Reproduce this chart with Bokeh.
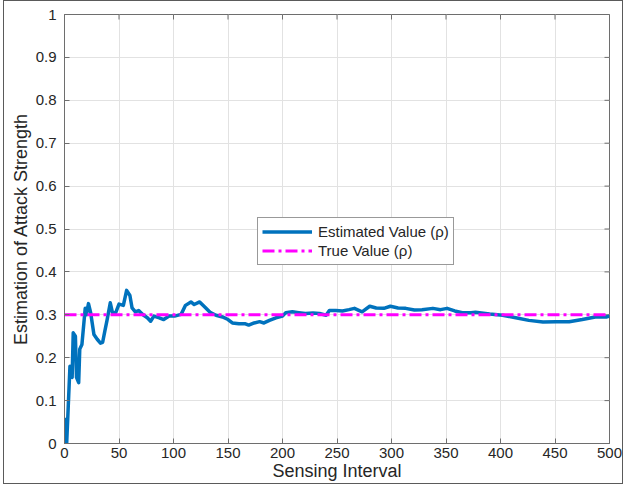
import math
from bokeh.plotting import figure
from bokeh.models import Range1d, FixedTicker, Legend, LegendItem
from bokeh.embed import file_html
from bokeh.resources import INLINE

# ---- data ----
interval = [1, 2, 5, 7, 8, 10, 11, 13, 14, 16, 19, 20, 22, 24, 27, 30, 33, 35, 37, 39,
            42, 44, 47, 50, 54, 57, 60, 62, 65, 68, 72, 76, 79, 82, 87, 91, 96, 101, 107, 111,
            116, 119, 124, 128, 134, 139, 145, 150, 154, 160, 166, 169, 174, 179, 183, 188, 194, 200, 203, 209,
            215, 221, 228, 234, 240, 243, 249, 255, 261, 266, 273, 280, 286, 293, 299, 306, 313, 321, 328, 338,
            345, 351, 358, 365, 373, 377, 390, 402, 414, 426, 439, 451, 463, 475, 487, 497, 500]
estimated = [0.06, 0.00, 0.18, 0.154, 0.258, 0.25, 0.154, 0.142, 0.22, 0.231, 0.315, 0.30, 0.326, 0.305, 0.254, 0.243, 0.234, 0.236, 0.262, 0.287,
             0.328, 0.305, 0.305, 0.325, 0.322, 0.357, 0.345, 0.316, 0.307, 0.31, 0.30, 0.293, 0.285, 0.297, 0.293, 0.289, 0.297, 0.297, 0.301, 0.322,
             0.330, 0.324, 0.330, 0.320, 0.305, 0.299, 0.295, 0.289, 0.281, 0.279, 0.279, 0.276, 0.281, 0.284, 0.281, 0.287, 0.293, 0.297, 0.305, 0.307,
             0.305, 0.303, 0.304, 0.303, 0.299, 0.310, 0.310, 0.309, 0.312, 0.315, 0.307, 0.320, 0.316, 0.315, 0.320, 0.316, 0.315, 0.311, 0.312, 0.315,
             0.312, 0.315, 0.309, 0.305, 0.305, 0.306, 0.302, 0.299, 0.293, 0.287, 0.283, 0.284, 0.284, 0.289, 0.295, 0.295, 0.297]
true_value = 0.3
x_limits = [0, 500]
y_limits = [0, 1]
x_ticks = [0, 50, 100, 150, 200, 250, 300, 350, 400, 450, 500]
y_ticks = [0, 0.1, 0.2, 0.3, 0.4, 0.5, 0.6, 0.7, 0.8, 0.9, 1]
y_tick_labels = ["0", "0.1", "0.2", "0.3", "0.4", "0.5", "0.6", "0.7", "0.8", "0.9", "1"]
x_label = "Sensing Interval"
y_label = "Estimation of Attack Strength"
legend_labels = ["Estimated Value (ρ)", "True Value (ρ)"]

FONT = "Liberation Sans"
AXIS_COLOR = "#6e6e6e"
TEXT_COLOR = "#262626"

p = figure(width=620, height=484, output_backend="svg", toolbar_location=None,
           x_range=Range1d(*x_limits), y_range=Range1d(*y_limits),
           min_border_left=60, min_border_right=15, min_border_top=13, min_border_bottom=42)
p.styles = {"border": "1px solid #5a5a5a", "margin-left": "3px"}
p.background_fill_color = "white"
p.border_fill_color = "white"
p.outline_line_color = AXIS_COLOR
p.outline_line_width = 1

for ax in (p.xaxis[0], p.yaxis[0]):
    ax.axis_line_color = AXIS_COLOR
    ax.major_tick_line_color = AXIS_COLOR
    ax.major_tick_in = 5
    ax.major_tick_out = 0
    ax.minor_tick_line_color = None
    ax.major_label_text_font = FONT
    ax.major_label_text_font_size = "15px"
    ax.major_label_text_color = TEXT_COLOR
    ax.major_label_standoff = 8
    ax.axis_label_text_font = FONT
    ax.axis_label_text_font_size = "18px"
    ax.axis_label_text_font_style = "normal"
    ax.axis_label_text_color = TEXT_COLOR

p.xaxis[0].ticker = FixedTicker(ticks=x_ticks)
p.yaxis[0].ticker = FixedTicker(ticks=y_ticks)
p.yaxis[0].major_label_overrides = dict(zip(y_ticks, y_tick_labels))
p.xaxis[0].axis_label = x_label
p.yaxis[0].axis_label = y_label
p.xaxis[0].major_label_standoff = 4
p.xaxis[0].axis_label_standoff = 0
p.yaxis[0].axis_label_standoff = 2

p.xgrid.ticker = FixedTicker(ticks=x_ticks)
p.ygrid.ticker = FixedTicker(ticks=y_ticks)
p.grid.grid_line_color = "#e2e2e2"
p.grid.grid_line_width = 1

# inward tick marks on the top and right edges of the box (outer half is clipped by the frame)
p.scatter(x_ticks, [y_limits[1]] * len(x_ticks), marker="dash", size=10, angle=math.pi / 2,
          line_color=AXIS_COLOR, line_width=1)
p.scatter([x_limits[1]] * len(y_ticks), y_ticks, marker="dash", size=10, angle=0,
          line_color=AXIS_COLOR, line_width=1)

r_est = p.line(interval, estimated, line_color="#0072BD", line_width=3.5, line_join="round")
r_true = p.line(x_limits, [true_value, true_value], line_color="#FF00FF", line_width=3,
                line_dash="12 4 3 4")

legend = Legend(items=[LegendItem(label=legend_labels[0], renderers=[r_est]),
                       LegendItem(label=legend_labels[1], renderers=[r_true])],
                location=(193, 178), margin=0, padding=4, spacing=0,
                glyph_width=50, glyph_height=19, label_height=19, label_standoff=6,
                label_text_font=FONT, label_text_font_size="15px", label_text_color=TEXT_COLOR,
                border_line_color="#333333", border_line_width=1,
                background_fill_color="white", background_fill_alpha=1)
p.add_layout(legend)

open("out.html", "w").write(file_html(p, INLINE))
